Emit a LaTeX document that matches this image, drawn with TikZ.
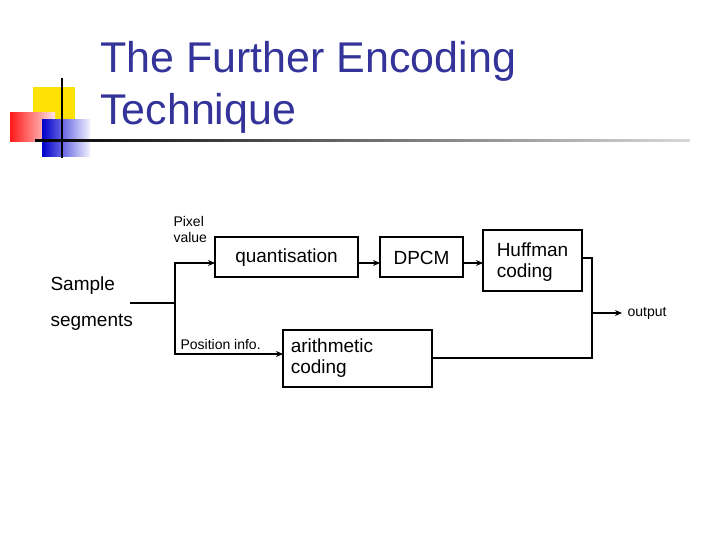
\documentclass[tikz,border=0pt]{standalone}
\usepackage{fontspec}
\setmainfont{Liberation Sans}
\usetikzlibrary{arrows.meta}
\definecolor{titleblue}{HTML}{333399}
\begin{document}
\begin{tikzpicture}[x=1pt,y=-1pt,
  box/.style={draw,line width=1.8pt,anchor=north west,inner sep=0pt},
  lbl/.style={font=\fontsize{19}{21}\selectfont,align=left},
  sm/.style={font=\fontsize{14}{16}\selectfont,align=left},
  wire/.style={line width=2pt},
  arr/.style={wire,-{Stealth[length=7pt,width=6pt]}}]
\useasboundingbox (0,0) rectangle (720,540);
% decorations
\fill[yellow!85!orange] (33,87) rectangle (75,130);
\shade[left color=red!90,right color=red!10] (10,113) rectangle (55,142);
\shade[left color=blue!80!black,right color=blue!5] (42,120) rectangle (90,157);
\draw[line width=1.5pt] (62,78) -- (62,158);
\shade[left color=black,right color=gray!30] (35,140) rectangle (690,142);
\node[anchor=north west,text=titleblue,font=\fontsize{43}{52}\selectfont,align=left,inner sep=0pt] (title) at (100,41) {The Further Encoding\\Technique};
% boxes
\draw[box] (215,237) rectangle (358,277);
\node[lbl] (q) at (286.5,258) {quantisation};
\draw[box] (380,237) rectangle (463,277);
\node[lbl] (d) at (421.5,258) {DPCM};
\draw[box] (483,230) rectangle (582,291);
\node[lbl] (h) at (532.5,262) {Huffman\\coding};
\draw[box] (283,330) rectangle (432,387);
\node[lbl] (a) at (332,358) {arithmetic\\coding};
\coordinate (qw) at (215,263); \coordinate (qe) at (358,263);
\coordinate (dw) at (380,263); \coordinate (de) at (463,263);
\coordinate (hw) at (483,263); \coordinate (he) at (582,258);
\coordinate (aw) at (283,354); \coordinate (ae) at (432,358);
\coordinate (in) at (130,303); \coordinate (j) at (175,303);
\coordinate (oj) at (592,313); \coordinate (out) at (622,313);
\node[lbl,anchor=west] (s) at (47,286) {Sample};
\node[lbl,anchor=west] (sg) at (47,322) {segments};
\node[sm,anchor=west] (pv) at (170,229) {Pixel\\value};
\node[sm,anchor=west] (pi) at (177,344) {Position info.};
\node[sm,anchor=west] (o) at (624,313) {output};
\draw[wire] (in) -- (j);
\draw[arr] (175,343) -- (175,263) -- (qw);
\draw[arr] (175,303) -- (175,354) -- (aw);
\draw[arr] (qe) -- (dw);
\draw[arr] (de) -- (hw);
\draw[wire] (he) -- (592,258) -- (592,358) -- (ae);
\draw[arr] (oj) -- (out);
\end{tikzpicture}
\end{document}
